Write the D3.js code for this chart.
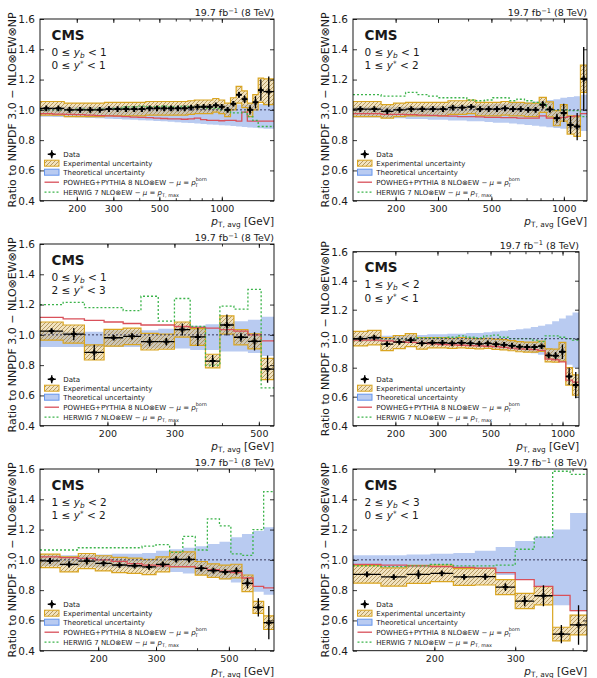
<!DOCTYPE html>
<html><head><meta charset="utf-8">
<script src="https://cdn.jsdelivr.net/npm/d3@7"></script>
<style>body{margin:0;background:#fff}svg{display:block}text{font-family:"DejaVu Sans",sans-serif;fill:#1a1a1a}</style>
</head><body>
<svg id="chart" width="597" height="678"></svg>
<script>
// ---------------- data ----------------
const ptEdges = [133,153,174,196,220,245,272,300,330,362,395,430,468,507,548,592,638,686,737,790,846,905,967,1032,1101,1172,1248,1327,1410,1497,1588,1784];
const yTicks = [0.4,0.6,0.8,1.0,1.2,1.4,1.6];
const xLabelTicks = [[200,300,500,1000],[200,300,500,1000],[200,300,500],[200,300,500,1000],[200,300,500],[200,300]];
const xMinorTicks = [200,300,400,500,600,700,800,900,1000,2000];
const ybRanges = [[0,1],[0,1],[0,1],[1,2],[1,2],[2,3]];
const ystarRanges = [[0,1],[1,2],[2,3],[0,1],[1,2],[0,1]];
const lumiLabel = ["19.7 fb","\u22121"," (8 TeV)"];
const legendLabels = ["Data","Experimental uncertainty","Theoretical uncertainty"];

const p1Data = [1.01,1.01,1.0,1.0,1.0,1.0,1.005,1.005,1.005,1.005,1.005,1.01,1.01,1.01,1.01,1.01,1.01,1.015,1.02,1.02,1.02,1.03,1.02,1.0,1.04,1.10,1.07,1.0,1.05,1.13,1.12];
const p1Stat = [0.004,0.004,0.004,0.004,0.004,0.004,0.004,0.004,0.004,0.004,0.004,0.004,0.004,0.004,0.004,0.004,0.004,0.004,0.005,0.006,0.007,0.008,0.01,0.012,0.015,0.02,0.025,0.03,0.04,0.07,0.1];
const p1Exp = [0.045,0.045,0.045,0.045,0.045,0.045,0.045,0.045,0.045,0.045,0.045,0.045,0.045,0.045,0.045,0.045,0.045,0.045,0.045,0.045,0.045,0.045,0.045,0.045,0.04,0.055,0.055,0.045,0.05,0.08,0.085];
const p1ThUp = [1.02,1.02,1.02,1.02,1.02,1.02,1.022,1.022,1.024,1.024,1.025,1.025,1.026,1.026,1.027,1.028,1.028,1.03,1.03,1.03,1.032,1.032,1.033,1.034,1.035,1.036,1.036,1.037,1.038,1.039,1.04];
const p1ThDn = [0.955,0.953,0.951,0.949,0.946,0.944,0.941,0.939,0.936,0.934,0.931,0.929,0.926,0.924,0.921,0.918,0.915,0.913,0.910,0.907,0.904,0.902,0.899,0.896,0.893,0.890,0.887,0.884,0.881,0.878,0.875];
const p1Powheg = [0.975,0.972,0.97,0.968,0.965,0.962,0.96,0.958,0.955,0.952,0.95,0.948,0.945,0.943,0.94,0.94,0.938,0.94,0.945,0.935,0.93,0.93,0.928,0.93,0.93,0.925,0.985,0.925,0.925,0.925,0.925];
const p1Herwig = [1.0,1.0,1.0,1.005,1.0,1.005,1.005,1.01,1.02,1.02,1.025,1.02,1.02,1.025,1.02,1.02,1.025,1.02,1.02,1.015,1.01,1.01,1.0,0.995,0.98,0.98,0.985,0.955,0.93,0.89,0.89];

const p2Data = [1.005,1.005,0.99,1.0,1.005,1.005,1.005,1.005,1.015,1.015,1.02,1.005,1.005,1.005,1.01,1.005,1.005,1.0,1.0,1.033,1.003,0.945,0.98,0.90,0.89,1.205];
const p2Stat = [0.004,0.004,0.004,0.004,0.004,0.004,0.004,0.005,0.005,0.005,0.005,0.005,0.005,0.006,0.006,0.007,0.008,0.009,0.01,0.025,0.02,0.03,0.06,0.06,0.09,0.21];
const p2Exp = [0.05,0.05,0.045,0.045,0.045,0.045,0.045,0.045,0.045,0.045,0.045,0.045,0.045,0.045,0.045,0.045,0.045,0.045,0.045,0.05,0.05,0.05,0.055,0.06,0.065,0.09];
const p2ThUp = [1.02,1.02,1.02,1.02,1.02,1.02,1.025,1.025,1.03,1.03,1.03,1.035,1.035,1.04,1.04,1.045,1.05,1.05,1.055,1.06,1.065,1.07,1.08,1.085,1.09,1.10];
const p2ThDn = [0.95,0.95,0.945,0.945,0.94,0.94,0.935,0.935,0.93,0.93,0.925,0.925,0.92,0.915,0.915,0.91,0.905,0.90,0.895,0.89,0.885,0.88,0.875,0.87,0.865,0.86];
const p2Powheg = [0.975,0.975,0.97,0.97,0.968,0.965,0.963,0.96,0.958,0.955,0.955,0.953,0.95,0.95,0.948,0.948,0.945,0.945,0.945,0.96,0.945,0.945,0.95,0.955,0.96,0.975];
const p2Herwig = [1.10,1.10,1.09,1.09,1.115,1.10,1.09,1.08,1.08,1.08,1.065,1.06,1.065,1.08,1.08,1.06,1.07,1.06,1.05,1.04,1.0,1.0,1.0,0.995,0.995,0.955];

const p3Data = [1.025,1.005,0.884,0.981,0.99,0.955,0.955,1.035,0.986,0.827,1.065,0.984,0.957,0.774];
const p3Stat = [0.015,0.04,0.05,0.015,0.02,0.03,0.025,0.04,0.06,0.04,0.07,0.03,0.06,0.09];
const p3Exp = [0.06,0.06,0.05,0.055,0.055,0.055,0.05,0.05,0.055,0.045,0.06,0.05,0.05,0.07];
const p3ThUp = [1.02,1.02,1.02,1.03,1.03,1.03,1.04,1.05,1.06,1.07,1.08,1.09,1.10,1.12];
const p3ThDn = [0.92,0.92,0.92,0.92,0.92,0.91,0.91,0.91,0.90,0.90,0.89,0.89,0.88,0.86];
const p3Powheg = [1.115,1.105,1.095,1.085,1.075,1.065,1.065,1.055,1.05,1.045,1.035,1.025,1.0,0.96];
const p3Herwig = [1.20,1.215,1.18,1.18,1.16,1.255,1.09,1.24,1.055,0.80,1.19,1.17,1.30,0.65];

const p4Data = [1.00,1.008,0.963,0.977,0.99,0.968,0.972,0.972,0.968,0.972,0.968,0.965,0.968,0.962,0.958,0.952,0.945,0.942,0.942,0.948,0.885,0.883,0.91,0.74,0.68];
const p4Stat = [0.006,0.006,0.006,0.006,0.006,0.006,0.006,0.006,0.006,0.006,0.006,0.007,0.007,0.008,0.008,0.009,0.01,0.01,0.012,0.012,0.02,0.025,0.05,0.06,0.09];
const p4Exp = [0.05,0.05,0.045,0.045,0.045,0.04,0.035,0.035,0.035,0.035,0.035,0.035,0.035,0.035,0.035,0.035,0.035,0.035,0.035,0.035,0.045,0.045,0.065,0.06,0.07];
const p4ThUp = [1.02,1.02,1.02,1.02,1.025,1.025,1.03,1.03,1.035,1.035,1.04,1.04,1.045,1.05,1.055,1.06,1.065,1.07,1.08,1.09,1.10,1.12,1.14,1.16,1.18];
const p4ThDn = [0.98,0.98,0.975,0.975,0.97,0.97,0.965,0.96,0.96,0.955,0.95,0.945,0.94,0.935,0.93,0.925,0.92,0.91,0.90,0.89,0.88,0.86,0.84,0.82,0.80];
const p4Powheg = [0.99,0.99,0.985,0.98,0.975,0.97,0.965,0.96,0.958,0.955,0.952,0.95,0.948,0.945,0.94,0.935,0.93,0.928,0.925,0.92,0.86,0.855,0.84,0.715,0.70];
const p4Herwig = [1.0,1.0,1.0,1.0,1.0,1.005,1.005,1.005,1.01,1.02,1.01,1.005,1.02,1.025,1.01,1.0,1.0,1.0,0.99,0.98,1.02,1.02,1.01,1.0,0.99];

const p5Data = [0.993,0.97,0.992,0.977,0.966,0.961,0.953,0.97,1.003,1.003,0.944,0.929,0.92,0.926,0.845,0.686,0.585];
const p5Stat = [0.01,0.02,0.025,0.01,0.01,0.01,0.01,0.015,0.02,0.02,0.02,0.01,0.015,0.025,0.035,0.06,0.11];
const p5Exp = [0.045,0.05,0.05,0.05,0.05,0.05,0.05,0.05,0.05,0.05,0.045,0.045,0.045,0.045,0.055,0.04,0.045];
const p5ThUp = [1.03,1.03,1.03,1.035,1.04,1.04,1.045,1.06,1.07,1.08,1.09,1.105,1.12,1.15,1.17,1.19,1.215];
const p5ThDn = [0.96,0.96,0.955,0.95,0.95,0.945,0.94,0.935,0.92,0.91,0.90,0.89,0.87,0.85,0.83,0.79,0.77];
const p5Powheg = [1.02,1.015,1.01,1.0,0.99,0.975,0.965,0.96,0.955,0.955,0.945,0.935,0.925,0.915,0.88,0.825,0.815];
const p5Herwig = [1.065,1.065,1.08,1.08,1.08,1.08,1.09,1.10,1.05,1.155,1.065,1.27,1.225,1.04,1.03,1.20,1.45];

const p6Data = [0.904,0.887,0.904,0.911,0.887,0.889,0.82,0.728,0.763,0.51,0.57];
const p6Stat = [0.006,0.015,0.03,0.01,0.01,0.02,0.025,0.035,0.07,0.06,0.13];
const p6Exp = [0.058,0.06,0.06,0.055,0.055,0.055,0.05,0.05,0.06,0.045,0.065];
const p6ThUp = [1.03,1.03,1.035,1.04,1.045,1.06,1.085,1.125,1.155,1.20,1.31];
const p6ThDn = [0.96,0.95,0.95,0.95,0.94,0.94,0.90,0.87,0.825,0.70,0.66];
const p6Powheg = [0.97,0.965,0.96,0.955,0.95,0.945,0.915,0.87,0.825,0.765,0.665];
const p6Herwig = [0.96,0.955,0.96,0.97,0.96,0.96,0.965,1.07,1.15,1.585,1.565];

const panelSeries = [
  {data:p1Data, stat:p1Stat, exp:p1Exp, thUp:p1ThUp, thDn:p1ThDn, powheg:p1Powheg, herwig:p1Herwig},
  {data:p2Data, stat:p2Stat, exp:p2Exp, thUp:p2ThUp, thDn:p2ThDn, powheg:p2Powheg, herwig:p2Herwig},
  {data:p3Data, stat:p3Stat, exp:p3Exp, thUp:p3ThUp, thDn:p3ThDn, powheg:p3Powheg, herwig:p3Herwig},
  {data:p4Data, stat:p4Stat, exp:p4Exp, thUp:p4ThUp, thDn:p4ThDn, powheg:p4Powheg, herwig:p4Herwig},
  {data:p5Data, stat:p5Stat, exp:p5Exp, thUp:p5ThUp, thDn:p5ThDn, powheg:p5Powheg, herwig:p5Herwig},
  {data:p6Data, stat:p6Stat, exp:p6Exp, thUp:p6ThUp, thDn:p6ThDn, powheg:p6Powheg, herwig:p6Herwig}
];

// ---------------- layout ----------------
const rects = [
  {x:40, y:19, w:234, h:181.7},
  {x:353, y:19, w:234, h:181.7},
  {x:40, y:244, w:234, h:181.7},
  {x:353, y:251.7, w:226, h:174},
  {x:40, y:469, w:234, h:181.7},
  {x:353, y:469, w:234, h:181.7}
];
const COL = {th:"rgb(100,140,225)", edge:"#daa520", red:"#d9505a", green:"#3cb44b", dot:"#3b3b5c"};

const svg = d3.select("#chart");
const defs = svg.append("defs");
const pat = defs.append("pattern").attr("id","hatch").attr("patternUnits","userSpaceOnUse").attr("width",4).attr("height",4);
pat.append("rect").attr("width",4).attr("height",4).attr("fill","rgba(226,192,115,0.45)");
pat.append("path").attr("d","M-1,1 L1,-1 M0,4 L4,0 M3,5 L5,3").attr("stroke","#a5864a").attr("stroke-width",0.8);

function mathRange(t, lo, hi, varName, kind){
  t.append("tspan").text(lo + " \u2264 ");
  t.append("tspan").attr("font-style","italic").text(varName);
  if(kind==="sub") t.append("tspan").attr("font-style","italic").attr("font-size","0.7em").attr("dy",2).text("b");
  else t.append("tspan").attr("font-size","0.7em").attr("dy",-3).text("*");
  t.append("tspan").attr("dy", kind==="sub"?-2:3).text(" < " + hi);
}

panelSeries.forEach((pd, i) => {
  const r = rects[i];
  const n = pd.data.length;
  const edges = ptEdges.slice(0, n+1);
  const x = d3.scaleLog().domain([edges[0], edges[n]]).range([r.x, r.x + r.w]);
  const y = d3.scaleLinear().domain([0.4, 1.6]).range([r.y + r.h, r.y]);
  const g = svg.append("g");
  defs.append("clipPath").attr("id","clip"+i).append("rect").attr("x",r.x).attr("y",r.y).attr("width",r.w).attr("height",r.h);
  const pg = g.append("g").attr("clip-path","url(#clip"+i+")");
  const at = (arr,k) => arr[Math.min(k, n-1)];
  const pts = edges.map((e,k)=>({e, k}));

  // theory band
  pg.append("path")
    .attr("d", d3.area().curve(d3.curveStepAfter).x(d=>x(d.e)).y0(d=>y(at(pd.thDn,d.k))).y1(d=>y(at(pd.thUp,d.k)))(pts))
    .attr("fill", COL.th).attr("fill-opacity", 0.45);
  // experimental uncertainty
  pg.append("path")
    .attr("d", d3.area().curve(d3.curveStepAfter).x(d=>x(d.e)).y0(d=>y(at(pd.data,d.k)-at(pd.exp,d.k))).y1(d=>y(at(pd.data,d.k)+at(pd.exp,d.k)))(pts))
    .attr("fill","url(#hatch)").attr("stroke",COL.edge).attr("stroke-width",1.2);
  // POWHEG
  pg.append("path")
    .attr("d", d3.line().curve(d3.curveStepAfter).x(d=>x(d.e)).y(d=>y(at(pd.powheg,d.k)))(pts))
    .attr("fill","none").attr("stroke",COL.red).attr("stroke-width",1.3);
  // HERWIG
  pg.append("path")
    .attr("d", d3.line().curve(d3.curveStepAfter).x(d=>x(d.e)).y(d=>y(at(pd.herwig,d.k)))(pts))
    .attr("fill","none").attr("stroke",COL.green).attr("stroke-width",1.3).attr("stroke-dasharray","2,2");
  // unity line
  pg.append("line").attr("x1",r.x).attr("x2",r.x+r.w).attr("y1",y(1)).attr("y2",y(1))
    .attr("stroke",COL.dot).attr("stroke-width",1).attr("stroke-dasharray","2,2");
  // data
  pd.data.forEach((v,k)=>{
    const e0 = edges[k], e1 = edges[k+1], c = Math.sqrt(e0*e1), s = pd.stat[k];
    pg.append("line").attr("x1",x(e0)).attr("x2",x(e1)).attr("y1",y(v)).attr("y2",y(v)).attr("stroke","#000").attr("stroke-width",1.3);
    pg.append("line").attr("x1",x(c)).attr("x2",x(c)).attr("y1",y(v-s)).attr("y2",y(v+s)).attr("stroke","#000").attr("stroke-width",1.3);
    pg.append("path").attr("d",`M${x(c)-2.8},${y(v)}h5.6M${x(c)},${y(v)-2.8}v5.6`).attr("stroke","#000").attr("stroke-width",2);
  });

  // axes
  const inMinor = xMinorTicks.filter(v => v >= edges[0] && v <= edges[n]);
  const styleAxis = (sel, fs) => { sel.select(".domain").remove(); sel.selectAll("line").attr("stroke","#000").attr("stroke-width",0.8); sel.selectAll("text").attr("font-size",fs).attr("font-family","DejaVu Sans").attr("fill","#1a1a1a"); };
  g.append("g").attr("transform",`translate(0,${r.y+r.h})`)
    .call(d3.axisBottom(x).tickValues(inMinor).tickSize(-2.5).tickFormat(""))
    .call(s=>styleAxis(s,9.5));
  g.append("g").attr("transform",`translate(0,${r.y+r.h})`)
    .call(d3.axisBottom(x).tickValues(xLabelTicks[i]).tickSize(-4).tickPadding(5).tickFormat(d3.format("d")))
    .call(s=>styleAxis(s,9.5));
  g.append("g").attr("transform",`translate(0,${r.y})`)
    .call(d3.axisTop(x).tickValues(inMinor).tickSize(-2.5).tickFormat(""))
    .call(s=>styleAxis(s,9.5));
  g.append("g").attr("transform",`translate(0,${r.y})`)
    .call(d3.axisTop(x).tickValues(xLabelTicks[i]).tickSize(-4).tickFormat(""))
    .call(s=>styleAxis(s,9.5));
  g.append("g").attr("transform",`translate(${r.x},0)`)
    .call(d3.axisLeft(y).tickValues(yTicks).tickSize(-4).tickPadding(5).tickFormat(d3.format(".1f")))
    .call(s=>styleAxis(s,10.5));
  g.append("g").attr("transform",`translate(${r.x+r.w},0)`)
    .call(d3.axisRight(y).tickValues(yTicks).tickSize(-4).tickFormat(""))
    .call(s=>styleAxis(s,10.5));
  g.append("rect").attr("x",r.x).attr("y",r.y).attr("width",r.w).attr("height",r.h).attr("fill","none").attr("stroke","#000").attr("stroke-width",0.9);

  // y label
  g.append("text").attr("transform",`translate(${r.x-24},${r.y+r.h/2}) rotate(-90)`).attr("text-anchor","middle").attr("font-size",11)
    .text("Ratio to NNPDF 3.0 \u2212 NLO\u2297EW\u2297NP");
  // x label
  const xl = g.append("text").attr("x",r.x+r.w).attr("y",r.y+r.h+24).attr("text-anchor","end").attr("font-size",10.5);
  xl.append("tspan").attr("font-style","italic").text("p");
  xl.append("tspan").attr("font-size","0.7em").attr("dy",2.5).text("T, avg");
  xl.append("tspan").attr("dy",-2.5).text(" [GeV]");
  // lumi
  const lt = g.append("text").attr("x",r.x+r.w).attr("y",r.y-3).attr("text-anchor","end").attr("font-size",9.5);
  lt.append("tspan").text(lumiLabel[0]);
  lt.append("tspan").attr("font-size","0.7em").attr("dy",-3.5).text(lumiLabel[1]);
  lt.append("tspan").attr("dy",3.5).text(lumiLabel[2]);
  // CMS + bin labels
  g.append("text").attr("x",r.x+11.5).attr("y",r.y+20.5).attr("font-size",13.5).attr("font-weight","bold").text("CMS");
  mathRange(g.append("text").attr("x",r.x+11.5).attr("y",r.y+36.5).attr("font-size",10.5), ybRanges[i][0], ybRanges[i][1], "y", "sub");
  mathRange(g.append("text").attr("x",r.x+11.5).attr("y",r.y+50.2).attr("font-size",10.5), ystarRanges[i][0], ystarRanges[i][1], "y", "sup");

  // legend
  const b = r.y + r.h;
  const rows = [b-46.5, b-37.5, b-28.5, b-18.5, b-8.5];
  const lx = r.x + 4.5, lw = 14.5, tx = r.x + 23.3;
  const lg = g.append("g");
  const cx = lx + lw/2;
  lg.append("path").attr("d",`M${cx-4},${rows[0]}h8M${cx},${rows[0]-4}v8`).attr("stroke","#000").attr("stroke-width",1.4);
  lg.append("path").attr("d",`M${cx-2.2},${rows[0]}h4.4M${cx},${rows[0]-2.2}v4.4`).attr("stroke","#000").attr("stroke-width",2.2);
  lg.append("rect").attr("x",lx).attr("y",rows[1]-3).attr("width",lw).attr("height",6).attr("fill","url(#hatch)").attr("stroke",COL.edge).attr("stroke-width",1);
  lg.append("rect").attr("x",lx).attr("y",rows[2]-3).attr("width",lw).attr("height",6).attr("fill",COL.th).attr("fill-opacity",0.45).attr("stroke","#6495ed").attr("stroke-width",1);
  lg.append("line").attr("x1",lx).attr("x2",lx+lw).attr("y1",rows[3]).attr("y2",rows[3]).attr("stroke",COL.red).attr("stroke-width",1.3);
  lg.append("line").attr("x1",lx).attr("x2",lx+lw).attr("y1",rows[4]).attr("y2",rows[4]).attr("stroke",COL.green).attr("stroke-width",1.3).attr("stroke-dasharray","2,2");
  const fs = 7;
  legendLabels.forEach((lab,k)=>{
    lg.append("text").attr("x",tx).attr("y",rows[k]+2.5).attr("font-size",fs).text(lab);
  });
  const t4 = lg.append("text").attr("x",tx).attr("y",rows[3]+2.5).attr("font-size",fs);
  t4.append("tspan").text("POWHEG+PYTHIA 8 NLO\u2297EW \u2212 ");
  t4.append("tspan").attr("font-style","italic").text("\u03bc");
  t4.append("tspan").text(" = ");
  t4.append("tspan").attr("font-style","italic").text("p");
  t4.append("tspan").attr("font-size","0.7em").attr("dy",-3.3).text("born");
  t4.append("tspan").attr("font-size","0.7em").attr("dx",-12).attr("dy",5.6).text("T");
  const t5 = lg.append("text").attr("x",tx).attr("y",rows[4]+2.5).attr("font-size",fs);
  t5.append("tspan").text("HERWIG 7 NLO\u2297EW \u2212 ");
  t5.append("tspan").attr("font-style","italic").text("\u03bc");
  t5.append("tspan").text(" = ");
  t5.append("tspan").attr("font-style","italic").text("p");
  t5.append("tspan").attr("font-size","0.7em").attr("dy",2).text("T, max");
});
</script>
</body></html>
